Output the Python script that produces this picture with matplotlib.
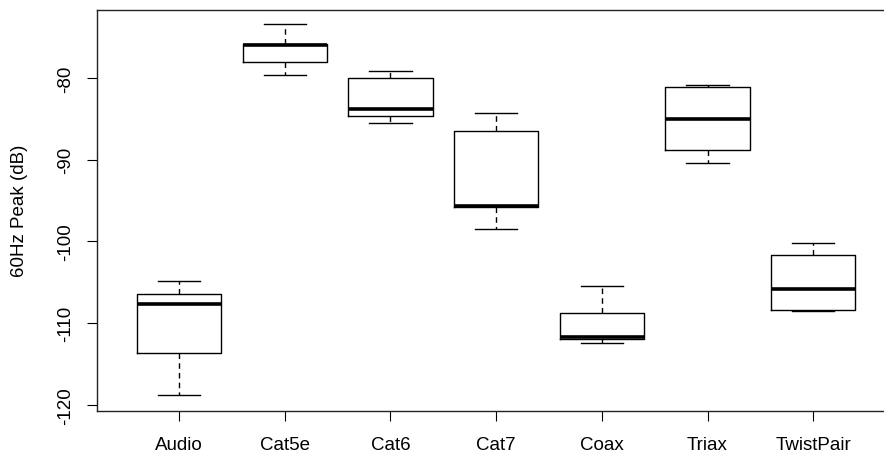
import matplotlib
matplotlib.use("Agg")
import matplotlib.pyplot as plt

plt.rcParams["font.family"] = ["Liberation Sans", "DejaVu Sans"]

# Box stats (dB)
cables  = ["Audio", "Cat5e", "Cat6", "Cat7", "Coax", "Triax", "TwistPair"]
whislo  = [-118.85, -79.6, -85.45, -98.55, -112.4, -90.45, -108.55]
q1      = [-113.65, -78.0, -84.7, -95.85, -112.0, -88.85, -108.45]
medians = [-107.7, -75.9, -83.85, -95.65, -111.75, -85.0, -105.85]
q3      = [-106.45, -75.85, -80.05, -86.45, -108.8, -81.05, -101.7]
whishi  = [-104.85, -73.45, -79.15, -84.3, -105.45, -80.9, -100.15]
yticks  = [-120, -110, -100, -90, -80]

stats = []
for name, lo, a, m, b, hi in zip(cables, whislo, q1, medians, q3, whishi):
    stats.append({"label": name, "whislo": lo, "q1": a, "med": m,
                  "q3": b, "whishi": hi, "fliers": []})

fig = plt.figure(figsize=(8.84, 4.56), dpi=100)
ax = fig.add_axes([0.1094, 0.0971, 0.8906, 0.8794])

ax.bxp(stats, positions=range(1, len(cables) + 1), widths=0.8,
       showfliers=False,
       boxprops=dict(color="black", linewidth=1.0),
       medianprops=dict(color="black", linewidth=2.6, solid_capstyle="butt"),
       whiskerprops=dict(color="black", linewidth=1.0, linestyle=(0, (4, 3))),
       capprops=dict(color="black", linewidth=1.0),
       capwidths=0.4)

ax.set_xlim(0.22, 7.67)
ax.set_ylim(-120.74, -71.64)
ax.set_yticks(yticks)
ax.set_yticklabels([str(t) for t in yticks], rotation=90, va="center")
ax.set_xticks(range(1, len(cables) + 1))
ax.set_xticklabels(cables)
ax.tick_params(axis="both", direction="out", length=7.5, width=0.8,
               labelsize=13.5, colors="black")
ax.tick_params(axis="y", pad=9)
ax.tick_params(axis="x", pad=10.5)

ax.spines["right"].set_visible(False)
for s in ["left", "top", "bottom"]:
    ax.spines[s].set_linewidth(1.0)
    ax.spines[s].set_color("#222222")

ax.set_ylabel("60Hz Peak (dB)", fontsize=13.5)
ax.yaxis.set_label_coords(-0.087, 0.5)

fig.savefig("out.png", dpi=100)
